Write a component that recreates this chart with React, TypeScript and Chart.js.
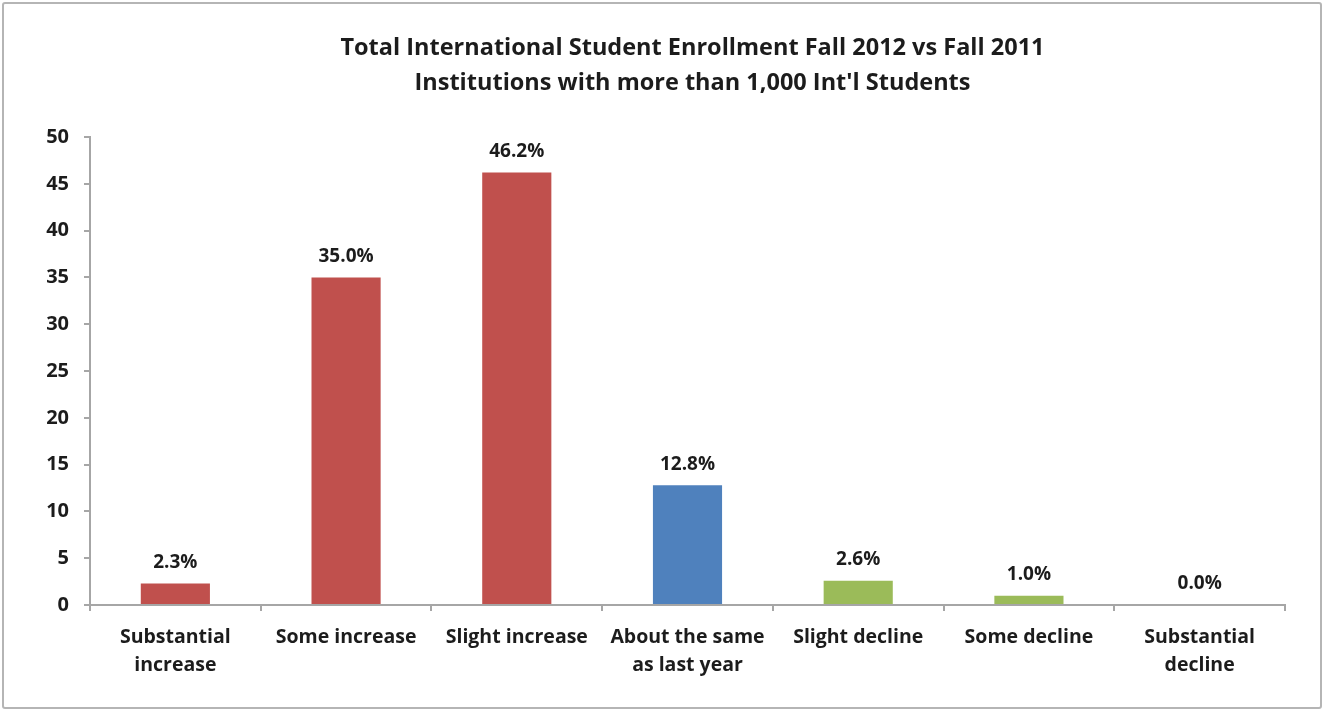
import React, { useEffect, useRef } from "react";
import { Chart, registerables } from "chart.js";

Chart.register(...registerables);

const categories: (string | string[])[] = [
  ["Substantial", "increase"],
  "Some increase",
  "Slight increase",
  ["About the same", "as last year"],
  "Slight decline",
  "Some decline",
  ["Substantial", "decline"],
];
const values: number[] = [2.3, 35.0, 46.2, 12.8, 2.6, 1.0, 0.0];
const barColors: string[] = ["#C0504D", "#C0504D", "#C0504D", "#4F81BD", "#9BBB59", "#9BBB59", "#9BBB59"];
const titleLines: string[] = [
  "Total International Student Enrollment Fall 2012 vs Fall 2011",
  "Institutions with more than 1,000 Int'l Students",
];
const yMin = 0;
const yMax = 50;
const yStep = 5;

const FONT = "'Open Sans', Lato, sans-serif";
const TEXT = "#1c1c1c";
const AXIS = "#a6a6a6";

const valueLabels = {
  id: "valueLabels",
  afterDatasetsDraw(chart: any) {
    const ctx = chart.ctx;
    const meta = chart.getDatasetMeta(0);
    ctx.save();
    ctx.font = `bold 19px ${FONT}`;
    ctx.fillStyle = TEXT;
    ctx.textAlign = "center";
    ctx.textBaseline = "middle";
    meta.data.forEach((el: any, i: number) => {
      const v = chart.data.datasets[0].data[i] as number;
      ctx.fillText(v.toFixed(1) + "%", el.x, el.y - 21);
    });
    ctx.restore();
  },
};

const centeredTitle = {
  id: "centeredTitle",
  afterDraw(chart: any) {
    const ctx = chart.ctx;
    const a = chart.chartArea;
    const cx = (a.left + a.right) / 2 + 5;
    ctx.save();
    ctx.font = `bold 23.5px ${FONT}`;
    ctx.fillStyle = TEXT;
    ctx.textAlign = "center";
    ctx.textBaseline = "middle";
    titleLines.forEach((line, i) => {
      ctx.fillText(line, cx, 48 + i * 35);
    });
    ctx.restore();
  },
};

export default function App() {
  const ref = useRef<HTMLCanvasElement | null>(null);
  useEffect(() => {
    if (!ref.current) return;
    const chart = new Chart(ref.current, {
      type: "bar",
      data: {
        labels: categories,
        datasets: [
          {
            data: values,
            backgroundColor: barColors,
            borderWidth: 0,
            categoryPercentage: 1,
            barPercentage: 0.405,
          },
        ],
      },
      options: {
        animation: false,
        responsive: false,
        maintainAspectRatio: false,
        layout: { padding: { left: 0, right: 39, top: 137, bottom: 0 } },
        plugins: {
          legend: { display: false },
          tooltip: { enabled: false },
          title: { display: false },
        },
        scales: {
          x: {
            offset: true,
            grid: {
              display: true,
              offset: true,
              drawOnChartArea: false,
              drawTicks: true,
              tickLength: 6,
              color: AXIS,
              lineWidth: 2,
            },
            border: { display: true, color: AXIS, width: 2 },
            ticks: {
              color: TEXT,
              font: { family: FONT, size: 19.5, weight: "bold", lineHeight: 28 / 19.5 },
              padding: 12,
              maxRotation: 0,
              autoSkip: false,
            },
            afterFit(scale: any) {
              scale.height = 106;
            },
          },
          y: {
            min: yMin,
            max: yMax,
            grid: {
              display: true,
              drawOnChartArea: false,
              drawTicks: true,
              tickLength: 6,
              color: AXIS,
              lineWidth: 2,
            },
            border: { display: true, color: AXIS, width: 2 },
            ticks: {
              stepSize: yStep,
              color: TEXT,
              font: { family: FONT, size: 20, weight: "bold" },
              padding: 15,
            },
            afterFit(scale: any) {
              scale.width = 90;
            },
          },
        },
      },
      plugins: [valueLabels, centeredTitle],
    });
    return () => chart.destroy();
  }, []);

  return (
    <div style={{ position: "fixed", left: 0, top: 0, width: 1324, height: 711, background: "#fff" }}>
      <canvas ref={ref} width={1324} height={711} style={{ position: "absolute", left: 0, top: 0 }} />
      <div
        style={{
          position: "absolute",
          left: 2,
          top: 2,
          right: 2,
          bottom: 2,
          border: "2px solid #b5b5b5",
          borderRadius: 3,
          pointerEvents: "none",
        }}
      />
    </div>
  );
}
